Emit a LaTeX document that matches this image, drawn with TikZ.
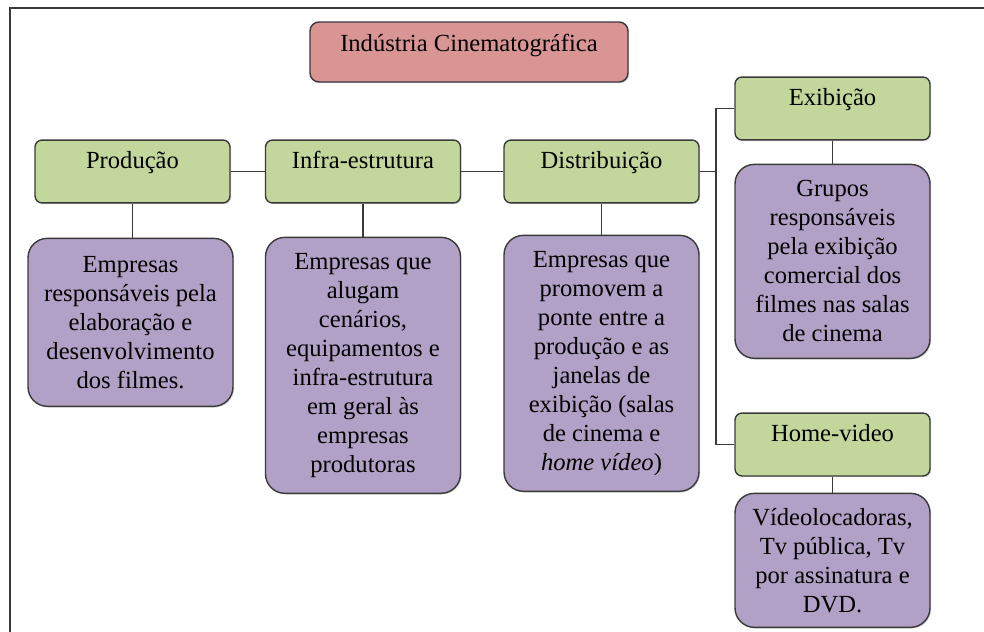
\documentclass[tikz,border=0pt]{standalone}
\usepackage{fontspec}
\setmainfont{Liberation Serif}
\usetikzlibrary{positioning,shadows}
\definecolor{boxgreen}{HTML}{C3D69B}
\definecolor{boxpurple}{HTML}{B2A1C7}
\definecolor{boxred}{HTML}{D99594}
\definecolor{edgegray}{HTML}{3A3A3A}
\begin{document}
\begin{tikzpicture}[x=0.02cm,y=-0.02cm,
                    every node/.style={font=\fontsize{14}{16.5}\selectfont,align=center},
                    box/.style={draw=edgegray,line width=0.8pt,
                      drop shadow={shadow xshift=0.7pt,shadow yshift=-0.7pt,opacity=0.3}},
                    head node/.style={box,fill=boxred,rounded corners=5pt,minimum width=6.36cm,
                      inner ysep=4pt,text height=12.9pt,text depth=13.2pt},
                    stage node/.style={box,fill=boxgreen,rounded corners=4pt,minimum width=3.9cm,
                      inner ysep=4pt,text height=12.3pt,text depth=15.5pt},
                    info node/.style={box,fill=boxpurple,rounded corners=11pt,minimum width=3.9cm,
                      inner sep=3pt},
                    link/.style={draw=edgegray,line width=0.8pt}]

  \clip (0,0) rectangle (984,632);
  % moldura
  \draw[edgegray,line width=1.1pt] (10,700) -- (10,8) -- (1050,8);

  \node[head node] (cine) at (469,52) {Indústria Cinematográfica};

  \node[stage node] (prod) at (132.5,171.5) {Produção};
  \node[stage node] (infra) at (363,171.5) {Infra-estrutura};
  \node[stage node] (dist) at (601.5,171.5) {Distribuição};
  \node[stage node] (exib) at (832.5,108.5) {Exibição};
  \node[stage node] (home) at (832.5,444.5) {Home-video};

  \node[info node,minimum width=4.1cm,minimum height=3.36cm,xshift=-0.04cm] (prodtxt) [below=0.68cm of prod]
    {Empresas\\responsáveis pela\\elaboração e\\desenvolvimento\\dos filmes.};
  \node[info node,minimum height=5.12cm] (infratxt) [below=0.66cm of infra]
    {Empresas que\\alugam\\cenários,\\equipamentos e\\infra-estrutura\\em geral às\\empresas\\produtoras};
  \node[info node,minimum height=5.12cm] (disttxt) [below=0.62cm of dist]
    {Empresas que\\promovem a\\ponte entre a\\produção e as\\janelas de\\exibição (salas\\de cinema e\\\textit{home vídeo})};
  \node[info node,minimum height=3.88cm] (exibtxt) [below=0.46cm of exib]
    {Grupos\\responsáveis\\pela exibição\\comercial dos\\filmes nas salas\\de cinema};
  \node[info node,minimum height=2.68cm] (hometxt) [below=0.32cm of home]
    {Vídeolocadoras,\\Tv pública, Tv\\por assinatura e\\DVD.};

  \coordinate (bus) at (716,171.5);

  \path[link]
  (prod) -- (infra)
  (infra) -- (dist)
  (dist.east) -- (bus)
  (exib.west) -| (bus) |- (home.west)
  (prod.south) -- (prod.south |- prodtxt.north)
  (infra.south) -- (infratxt.north)
  (dist.south) -- (disttxt.north)
  (exib.south) -- (exibtxt.north)
  (home.south) -- (hometxt.north);

\end{tikzpicture}
\end{document}
